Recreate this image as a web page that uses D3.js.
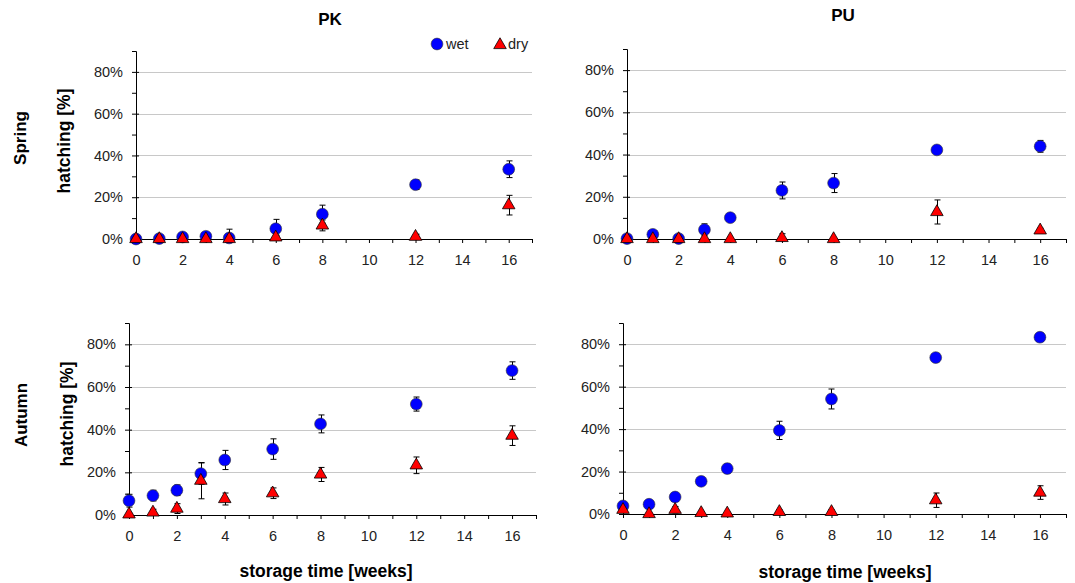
<!DOCTYPE html>
<html>
<head>
<meta charset="utf-8">
<script src="https://cdn.jsdelivr.net/npm/d3@7"></script>
<style>
  body { margin: 0; background: #fff; }
  svg text { font-family: "Liberation Sans", Arial, sans-serif; fill: #222; }
  .bold { font-weight: bold; fill: #000; }
</style>
</head>
<body>
<svg id="chart" width="1075" height="583"></svg>
<script>
// storage time in weeks
var weeks = [0, 1, 2, 3, 4, 6, 8, 12, 16];

// hatching [%] and error (+/-)
var pkSpringWet    = [0, 0.2, 1, 1.3, 0.5, 4.9, 11.9, 26, 33.4];
var pkSpringWetErr = [0.5, 0.5, 0.8, 0.8, 4.2, 4.5, 4.3, 2.3, 4];
var pkSpringDry    = [0, 0, 0, 0, 0, 0.8, 6.5, 1.1, 16.2];
var pkSpringDryErr = [0, 0, 0, 0, 0, 1, 2.6, 1.2, 4.7];

var puSpringWet    = [0.2, 2.2, 0.2, 4.4, 10.1, 23, 26.5, 42.2, 43.9];
var puSpringWetErr = [0.5, 0.8, 0.5, 2.8, 1.5, 4, 4.5, 1.5, 2.8];
var puSpringDry    = [0, 0, 0, 0, 0, 0.5, 0, 12.8, 4.1];
var puSpringDryErr = [0, 0, 0, 0, 0, 2, 0, 5.7, 1];

var pkAutumnWet    = [6.7, 9.1, 11.6, 19.4, 25.8, 30.9, 42.7, 52, 67.7];
var pkAutumnWetErr = [3, 2.5, 2.5, 5, 4.5, 4.8, 4.2, 3.3, 4.1];
var pkAutumnDry    = [0.3, 1.2, 3, 16.1, 7.5, 10.2, 19, 23.3, 37.2];
var pkAutumnDryErr = [0.5, 1.5, 2.3, 8.5, 2.8, 2.5, 3.3, 3.9, 4.6];

var puAutumnWet    = [3.8, 4.6, 8, 15.4, 21.4, 39.4, 54.2, 73.7, 83.3];
var puAutumnWetErr = [1, 1, 1.5, 2, 2.2, 4.3, 4.7, 2, 2];
var puAutumnDry    = [2, 0, 2, 0.5, 0.3, 1, 1, 6.5, 10.1];
var puAutumnDryErr = [1, 0, 1.5, 0.5, 0.5, 1, 1, 3.4, 3.2];

var yTicks = [0, 20, 40, 60, 80];
var xTicks = [0, 2, 4, 6, 8, 10, 12, 14, 16];

var panels = [
  {x0: 136, x1: 532, y0: 239, y1: 51, wet: pkSpringWet, wetErr: pkSpringWetErr, dry: pkSpringDry, dryErr: pkSpringDryErr},
  {x0: 627, x1: 1066, y0: 239, y1: 49, wet: puSpringWet, wetErr: puSpringWetErr, dry: puSpringDry, dryErr: puSpringDryErr},
  {x0: 129, x1: 536, y0: 515, y1: 323, wet: pkAutumnWet, wetErr: pkAutumnWetErr, dry: pkAutumnDry, dryErr: pkAutumnDryErr},
  {x0: 623, x1: 1066, y0: 514, y1: 323, wet: puAutumnWet, wetErr: puAutumnWetErr, dry: puAutumnDry, dryErr: puAutumnDryErr}
];

var svg = d3.select('#chart');
var tri = d3.symbol().type(d3.symbolTriangle).size(68);
var tickFont = 14.5;

panels.forEach(function(p) {
  var x = d3.scaleLinear().domain([0, 17]).range([p.x0, p.x1]);
  var y = d3.scaleLinear().domain([0, 90]).range([p.y0, p.y1]);
  var g = svg.append('g');

  // grid
  g.selectAll('.grid')
    .data(yTicks.slice(1))
    .enter()
    .append('line')
    .attr('x1', p.x0).attr('x2', p.x1)
    .attr('y1', function(d) { return Math.round(y(d)) + 0.5; })
    .attr('y2', function(d) { return Math.round(y(d)) + 0.5; })
    .attr('stroke', '#c8c8c8')
    .attr('stroke-width', 1);

  // y axis
  var yAxis = d3.axisLeft(y)
    .tickValues(yTicks)
    .tickFormat(function(d) { return d + '%'; })
    .tickSize(4)
    .tickPadding(9);
  var ya = g.append('g').attr('transform', 'translate(' + p.x0 + ',0)').call(yAxis);
  ya.select('.domain').attr('stroke', '#000');
  ya.selectAll('.tick line').attr('x2', -4).attr('x1', 3).attr('stroke', '#000');
  ya.selectAll('text').attr('font-size', tickFont).style('font-family', '"Liberation Sans", Arial, sans-serif').attr('fill', '#222');
  // minor y ticks
  var ym = d3.axisLeft(y).tickValues([10, 30, 50, 70, 90]).tickFormat('').tickSize(4);
  var yma = g.append('g').attr('transform', 'translate(' + p.x0 + ',0)').call(ym);
  yma.select('.domain').remove();
  yma.selectAll('.tick line').attr('stroke', '#000');

  // x axis
  var xAxis = d3.axisBottom(x)
    .tickValues(xTicks)
    .tickSize(4)
    .tickPadding(12);
  var xa = g.append('g').attr('transform', 'translate(0,' + p.y0 + ')').call(xAxis);
  xa.select('.domain').attr('stroke', '#000').attr('d', 'M' + p.x0 + ',0.5H' + p.x1);
  xa.selectAll('.tick line').attr('stroke', '#000');
  xa.selectAll('text').attr('font-size', tickFont).style('font-family', '"Liberation Sans", Arial, sans-serif').attr('fill', '#222');
  var xm = d3.axisBottom(x).tickValues([1, 3, 5, 7, 9, 11, 13, 15, 17]).tickFormat('').tickSize(4);
  var xma = g.append('g').attr('transform', 'translate(0,' + p.y0 + ')').call(xm);
  xma.select('.domain').remove();
  xma.selectAll('.tick line').attr('stroke', '#000');

  // series
  var series = [
    {vals: p.wet, err: p.wetErr, kind: 'wet'},
    {vals: p.dry, err: p.dryErr, kind: 'dry'}
  ];
  series.forEach(function(s) {
    var pts = weeks.map(function(w, i) { return {w: w, v: s.vals[i], e: s.err[i]}; });
    var eb = g.append('g').attr('stroke', '#000').attr('stroke-width', 1);
    pts.forEach(function(d) {
      if (d.e <= 0) return;
      var cx = Math.round(x(d.w)) + 0.5;
      var top = y(d.v + d.e), bot = y(Math.max(0, d.v - d.e));
      eb.append('line').attr('x1', cx).attr('x2', cx).attr('y1', top).attr('y2', bot);
      eb.append('line').attr('x1', cx - 3).attr('x2', cx + 3).attr('y1', top).attr('y2', top);
      eb.append('line').attr('x1', cx - 3).attr('x2', cx + 3).attr('y1', bot).attr('y2', bot);
    });
  });
  series.forEach(function(s) {
    var pts = weeks.map(function(w, i) { return {w: w, v: s.vals[i]}; });
    if (s.kind == 'wet') {
      g.selectAll('.wet')
        .data(pts)
        .enter()
        .append('circle')
        .attr('cx', function(d) { return x(d.w); })
        .attr('cy', function(d) { return y(d.v); })
        .attr('r', 5.9)
        .attr('fill', '#0000ff')
        .attr('stroke', '#333')
        .attr('stroke-width', 0.6);
    } else {
      g.selectAll('.dry')
        .data(pts)
        .enter()
        .append('path')
        .attr('d', tri)
        .attr('transform', function(d) { return 'translate(' + x(d.w) + ',' + y(d.v) + ')'; })
        .attr('fill', '#ff0000')
        .attr('stroke', '#000')
        .attr('stroke-width', 0.8);
    }
  });
});

// titles and labels
function label(txt, cx, cy, rot, size) {
  svg.append('text')
    .attr('class', 'bold')
    .attr('transform', 'translate(' + cx + ',' + cy + ')' + (rot ? ' rotate(-90)' : ''))
    .attr('text-anchor', 'middle')
    .attr('dominant-baseline', 'middle')
    .attr('font-size', size)
    .text(txt);
}
label('PK', 330, 21, false, 17);
label('PU', 843, 17, false, 17);
label('Spring', 22, 138, true, 17);
label('Autumn', 23, 415, true, 17);
label('hatching [%]', 65, 141, true, 17.5);
label('hatching [%]', 68, 414, true, 17.5);
label('storage time [weeks]', 326, 572, false, 17.5);
label('storage time [weeks]', 845, 573, false, 17.5);

// legend
svg.append('circle').attr('cx', 437).attr('cy', 44).attr('r', 5.9)
  .attr('fill', '#0000ff').attr('stroke', '#333').attr('stroke-width', 0.6);
svg.append('text').attr('x', 446).attr('y', 49).attr('font-size', tickFont).text('wet');
svg.append('path').attr('d', tri).attr('transform', 'translate(500,45)')
  .attr('fill', '#ff0000').attr('stroke', '#000').attr('stroke-width', 0.8);
svg.append('text').attr('x', 508).attr('y', 49).attr('font-size', tickFont).text('dry');
</script>
</body>
</html>
